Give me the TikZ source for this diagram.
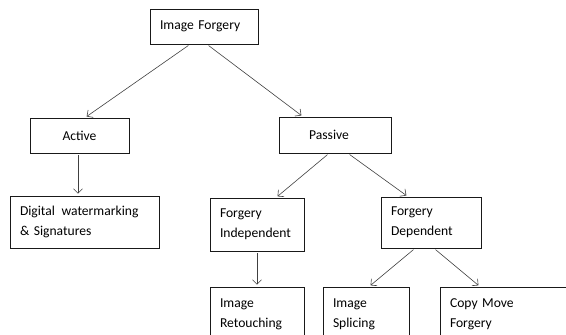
\documentclass[tikz,border=0pt]{standalone}
\usepackage{fontspec}
\setmainfont{Carlito}
\usetikzlibrary{arrows.meta}
\tikzset{
  box/.style={draw=black!90, line width=0.7pt, align=left, inner xsep=10pt,
    inner ysep=0pt, font=\fontsize{13.6}{20}\selectfont, text=black},
  arr/.style={->, draw=black!75, line width=0.6pt, shorten <=2pt, shorten >=2pt}
}
\begin{document}
\begin{tikzpicture}[x=1pt, y=-1pt, >={Straight Barb[length=4.5pt,width=9pt]}]
                \path[use as bounding box, clip] (0,0) rectangle (566,335);
                \node[box, text width=88pt, minimum height=35pt] (forgery) at (204,26.5) {Image Forgery};
                \node[box, align=center, text width=79pt, minimum height=35pt] (active) at (79.5,135.5) {Active};
                \node[box, align=center, text width=92pt, minimum height=36pt] (passive) at (335,135) {\hspace*{-12pt}Passive};
                \node[box, text width=129pt, minimum height=52pt] (digital) at (84.5,222) {Digital\hspace{2pt} watermarking\\\& Signatures};
                \node[box, text width=74pt, minimum height=53pt] (indep) at (257,224.5) {Forgery\\Independent};
                \node[box, text width=80pt, minimum height=51pt] (dep) at (431,222.5) {Forgery\\Dependent};
                \node[box, text width=74pt, minimum height=55pt] (retouch) at (257,314.5) {Image\\Retouching};
                \node[box, text width=66pt, minimum height=55pt] (splice) at (366,314.5) {Image\\Splicing};
                \node[box, text width=120pt, minimum height=55pt] (copymove) at (510,314.5) {Copy Move\\Forgery};
                \draw[arr] ([xshift=-14pt]forgery.south) -- ([xshift=5.5pt]active.north);
                \draw[arr] ([xshift=3pt]forgery.south) -- ([xshift=-32pt]passive.north);
                \draw[arr] ([xshift=-1.5pt]active.south) -- ([xshift=-6.5pt]digital.north);
                \draw[arr] ([xshift=-6pt]passive.south) -- ([xshift=19pt]indep.north);
                \draw[arr] ([xshift=13pt]passive.south) -- ([xshift=-23pt]dep.north);
                \draw[arr] (indep.south) -- (retouch.north);
                \draw[arr] ([xshift=-16pt]dep.south) -- ([xshift=3pt]splice.north);
                \draw[arr] ([xshift=3pt]dep.south) -- ([xshift=-30pt]copymove.north);
            \end{tikzpicture}
\end{document}
